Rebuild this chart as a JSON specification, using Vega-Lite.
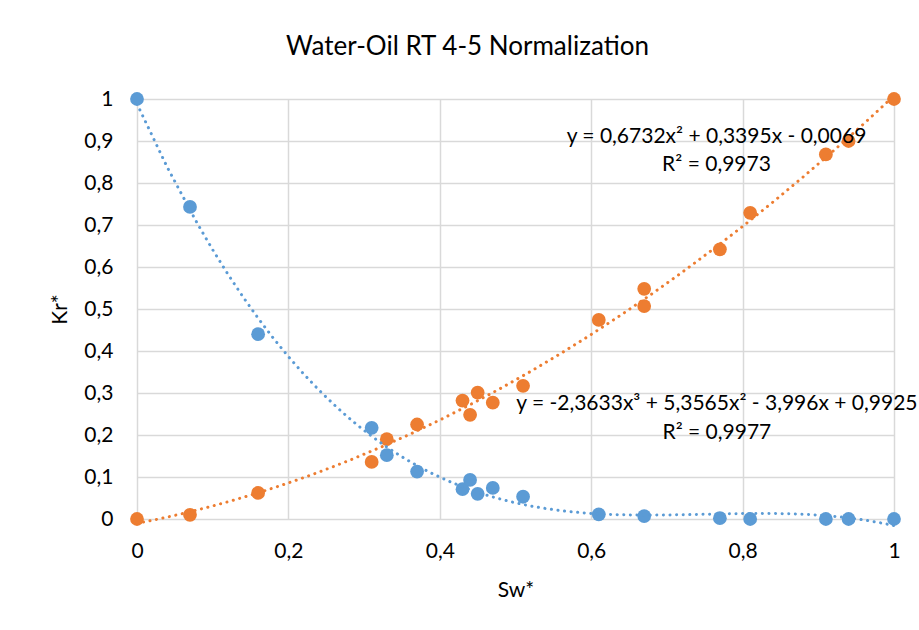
{
  "$schema": "https://vega.github.io/schema/vega-lite/v6.json",
  "width": 757,
  "height": 420,
  "autosize": {"type": "none"},
  "padding": {"left": 137, "top": 99, "right": 25, "bottom": 111},
  "background": "white",
  "title": {
    "text": "Water-Oil RT 4-5 Normalization",
    "font": "Lato",
    "fontSize": 26,
    "fontWeight": "normal",
    "color": "#000000",
    "frame": "group",
    "anchor": "middle",
    "dx": -48,
    "offset": 28
  },
  "config": {
    "view": {"stroke": null},
    "axis": {
      "domain": false,
      "ticks": false,
      "labelFlush": false,
      "gridColor": "#d9d9d9",
      "gridWidth": 1.5,
      "labelFont": "Lato",
      "labelFontSize": 21,
      "labelColor": "#000000",
      "titleFont": "Lato",
      "titleFontSize": 21,
      "titleFontWeight": "normal",
      "titleColor": "#000000"
    }
  },
  "datasets": {
    "points": [
      {"Sw": 0.00, "Kr": 1.000, "series": "Kro*"},
      {"Sw": 0.07, "Kr": 0.743, "series": "Kro*"},
      {"Sw": 0.16, "Kr": 0.440, "series": "Kro*"},
      {"Sw": 0.31, "Kr": 0.217, "series": "Kro*"},
      {"Sw": 0.33, "Kr": 0.152, "series": "Kro*"},
      {"Sw": 0.37, "Kr": 0.113, "series": "Kro*"},
      {"Sw": 0.43, "Kr": 0.071, "series": "Kro*"},
      {"Sw": 0.44, "Kr": 0.093, "series": "Kro*"},
      {"Sw": 0.45, "Kr": 0.060, "series": "Kro*"},
      {"Sw": 0.47, "Kr": 0.074, "series": "Kro*"},
      {"Sw": 0.51, "Kr": 0.053, "series": "Kro*"},
      {"Sw": 0.61, "Kr": 0.011, "series": "Kro*"},
      {"Sw": 0.67, "Kr": 0.007, "series": "Kro*"},
      {"Sw": 0.77, "Kr": 0.002, "series": "Kro*"},
      {"Sw": 0.81, "Kr": 0.000, "series": "Kro*"},
      {"Sw": 0.91, "Kr": 0.000, "series": "Kro*"},
      {"Sw": 0.94, "Kr": 0.000, "series": "Kro*"},
      {"Sw": 1.00, "Kr": 0.000, "series": "Kro*"},
      {"Sw": 0.00, "Kr": 0.000, "series": "Krw*"},
      {"Sw": 0.07, "Kr": 0.010, "series": "Krw*"},
      {"Sw": 0.16, "Kr": 0.062, "series": "Krw*"},
      {"Sw": 0.31, "Kr": 0.136, "series": "Krw*"},
      {"Sw": 0.33, "Kr": 0.190, "series": "Krw*"},
      {"Sw": 0.37, "Kr": 0.225, "series": "Krw*"},
      {"Sw": 0.43, "Kr": 0.282, "series": "Krw*"},
      {"Sw": 0.44, "Kr": 0.248, "series": "Krw*"},
      {"Sw": 0.45, "Kr": 0.301, "series": "Krw*"},
      {"Sw": 0.47, "Kr": 0.277, "series": "Krw*"},
      {"Sw": 0.51, "Kr": 0.317, "series": "Krw*"},
      {"Sw": 0.61, "Kr": 0.474, "series": "Krw*"},
      {"Sw": 0.67, "Kr": 0.507, "series": "Krw*"},
      {"Sw": 0.67, "Kr": 0.548, "series": "Krw*"},
      {"Sw": 0.77, "Kr": 0.642, "series": "Krw*"},
      {"Sw": 0.81, "Kr": 0.729, "series": "Krw*"},
      {"Sw": 0.91, "Kr": 0.868, "series": "Krw*"},
      {"Sw": 0.94, "Kr": 0.900, "series": "Krw*"},
      {"Sw": 1.00, "Kr": 1.000, "series": "Krw*"}
    ]
  },
  "data": {"name": "points"},
  "encoding": {
    "x": {
      "field": "Sw",
      "type": "quantitative",
      "scale": {"domain": [0, 1], "nice": false, "zero": false},
      "axis": {
        "title": "Sw*",
        "values": [0, 0.2, 0.4, 0.6, 0.8, 1],
        "labelExpr": "replace(format(datum.value, '~g'), '.', ',')",
        "labelPadding": 21,
        "titlePadding": 18
      }
    },
    "y": {
      "field": "Kr",
      "type": "quantitative",
      "scale": {"domain": [0, 1], "nice": false, "zero": false},
      "axis": {
        "title": "Kr*",
        "values": [0, 0.1, 0.2, 0.3, 0.4, 0.5, 0.6, 0.7, 0.8, 0.9, 1],
        "labelExpr": "replace(format(datum.value, '~g'), '.', ',')",
        "labelPadding": 24,
        "titlePadding": 13
      }
    },
    "color": {
      "field": "series",
      "type": "nominal",
      "scale": {"domain": ["Kro*", "Krw*"], "range": ["#5B9BD5", "#ED7D31"]},
      "legend": null
    }
  },
  "layer": [
    {
      "mark": {"type": "point", "filled": true, "opacity": 1, "size": 190, "shape": "circle"}
    },
    {
      "transform": [
        {"filter": "datum.series === 'Kro*'"},
        {"regression": "Kr", "on": "Sw", "method": "poly", "order": 3, "extent": [0, 1]},
        {"calculate": "'Kro*'", "as": "series"}
      ],
      "mark": {"type": "line", "strokeWidth": 3, "strokeDash": [0.1, 6.5], "strokeCap": "round", "clip": false}
    },
    {
      "transform": [
        {"filter": "datum.series === 'Krw*'"},
        {"regression": "Kr", "on": "Sw", "method": "poly", "order": 2, "extent": [0, 1]},
        {"calculate": "'Krw*'", "as": "series"}
      ],
      "mark": {"type": "line", "strokeWidth": 3, "strokeDash": [0.1, 6.5], "strokeCap": "round", "clip": false}
    },
    {
      "transform": [{"filter": "datum.Sw === 1 && datum.series === 'Krw*'"}],
      "mark": {"type": "text", "font": "Lato", "fontSize": 21, "align": "center", "baseline": "middle", "lineHeight": 28, "fill": "#000000",
        "text": ["y = 0,6732x² + 0,3395x - 0,0069", "R² = 0,9973"]},
      "encoding": {"x": {"datum": 0.7655}, "y": {"datum": 0.9095}, "color": {"value": "#000000"}}
    },
    {
      "transform": [{"filter": "datum.Sw === 1 && datum.series === 'Kro*'"}],
      "mark": {"type": "text", "font": "Lato", "fontSize": 21, "align": "center", "baseline": "middle", "lineHeight": 29, "fill": "#000000",
        "text": ["y = -2,3633x³ + 5,3565x² - 3,996x + 0,9925", "R² = 0,9977"]},
      "encoding": {"x": {"datum": 0.766}, "y": {"datum": 0.274}, "color": {"value": "#000000"}}
    }
  ]
}
